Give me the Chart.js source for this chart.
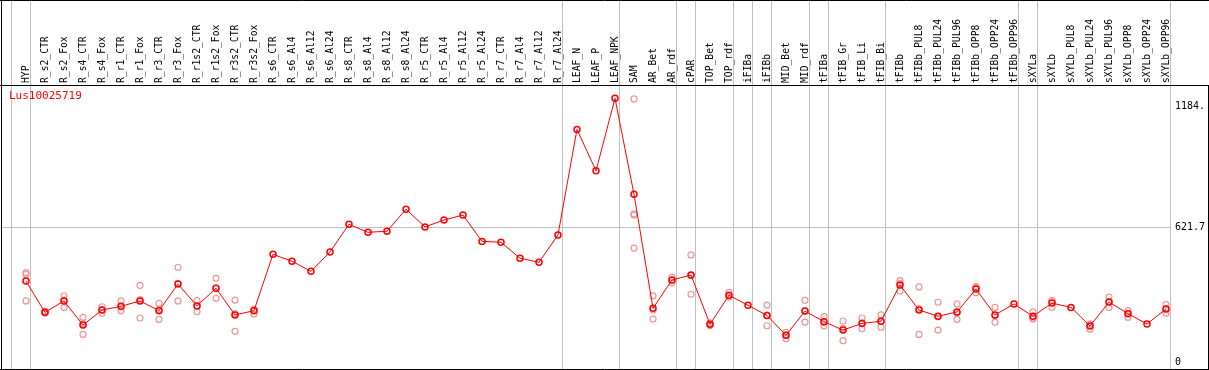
<!DOCTYPE html>
<html><head><meta charset="utf-8">
<script src="https://cdn.jsdelivr.net/npm/chart.js@4.4.1/dist/chart.umd.min.js"></script>
<style>html,body{margin:0;padding:0;background:#fff;overflow:hidden}canvas{display:block}</style>
</head><body>
<canvas id="c" width="1209" height="370"></canvas>
<script>
const geneName = 'Lus10025719';
const categories = ['HYP','R_s2_CTR','R_s2_Fox','R_s4_CTR','R_s4_Fox','R_r1_CTR','R_r1_Fox','R_r3_CTR','R_r3_Fox','R_r1s2_CTR','R_r1s2_Fox','R_r3s2_CTR','R_r3s2_Fox','R_s6_CTR','R_s6_Al4','R_s6_Al12','R_s6_Al24','R_s8_CTR','R_s8_Al4','R_s8_Al12','R_s8_Al24','R_r5_CTR','R_r5_Al4','R_r5_Al12','R_r5_Al24','R_r7_CTR','R_r7_Al4','R_r7_Al12','R_r7_Al24','LEAF_N','LEAF_P','LEAF_NPK','SAM','AR_Bet','AR_rdf','cPAR','TOP_Bet','TOP_rdf','iFIBa','iFIBb','MID_Bet','MID_rdf','tFIBa','tFIB_Gr','tFIB_Li','tFIB_Bi','tFIBb','tFIBb_PUL8','tFIBb_PUL24','tFIBb_PUL96','tFIBb_OPP8','tFIBb_OPP24','tFIBb_OPP96','sXYLa','sXYLb','sXYLb_PUL8','sXYLb_PUL24','sXYLb_PUL96','sXYLb_OPP8','sXYLb_OPP24','sXYLb_OPP96'];
const means = [375,230,283,171,241,258,283,238,361,260,342,218,238,
  499,467,420,510,638,601,606,708,626,658,681,559,555,481,462,589,
  1078,886,1222,777,249,380,403,
  175,309,263,216,124,236,187,148,179,189,
  357,241,212,232,338,218,269,
  212,273,253,167,278,224,176,246];
const replicates = [
  [414,406,283],[236,227,227],[307,253,287],[207,128,179],[256,226,241],[283,238,255],[355,204,289],[272,198,244],[439,283,363],[284,233,261],[388,295,342],[287,142,224],[244,222,243],
  [],[],[],[],[],[],[],[],[],[],[],[],[],[],[],[],
  [],[],[],
  [1219,686,681,528],[306,199,241],[393,367,380],[496,314,400],
  [181,171,169],[323,303,301],[],[264,168,216],[138,108,125],[286,185,236],[210,167,184],[190,99,156],[204,154,181],[218,161,188],
  [377,329,365],[348,128,247],[277,148,210],[269,198,228],[349,321,345],[253,184,216],[],
  [232,199,204],[284,253,283],[],[176,152,173],[301,253,280],[238,207,227],[],[266,226,246]
];
const groupEnds = [-1,0,28,31,34,35,37,38,39,41,42,45,52,53,60];
const yTickValues = [0, 621.7, 1184];
const yTickLabels = ['0','621.7','1184.'];

const meanPoints = means.map((v,i)=>({x:i,y:v}));
const repPoints = [];
replicates.forEach((arr,i)=>arr.forEach(v=>repPoints.push({x:i,y:v})));

const frame = {
  id:'frame',
  beforeDraw(chart){ const ctx=chart.ctx; ctx.save(); ctx.fillStyle='#fff'; ctx.fillRect(0,0,chart.width,chart.height); ctx.restore(); },
  beforeDatasetsDraw(chart){
    const ctx=chart.ctx, xs=chart.scales.x, a=chart.chartArea;
    ctx.save(); ctx.strokeStyle='#c0c0c0'; ctx.lineWidth=1;
    groupEnds.forEach(g=>{ const px=Math.round(xs.getPixelForValue(g)+4)+0.5; ctx.beginPath(); ctx.moveTo(px,0); ctx.lineTo(px,a.bottom); ctx.stroke(); });
    ctx.restore();
  },
  afterDraw(chart){
    const ctx=chart.ctx, a=chart.chartArea, W=chart.width, H=chart.height;
    ctx.save(); ctx.strokeStyle='#000'; ctx.lineWidth=1;
    ctx.beginPath();
    ctx.moveTo(0,0.5); ctx.lineTo(W,0.5);
    ctx.moveTo(0,a.top-0.5); ctx.lineTo(W,a.top-0.5);
    ctx.moveTo(0,H-0.5); ctx.lineTo(W,H-0.5);
    ctx.moveTo(1.5,0); ctx.lineTo(1.5,H);
    ctx.moveTo(W-0.5,a.top); ctx.lineTo(W-0.5,H);
    ctx.stroke();
    ctx.fillStyle='#ff0000'; ctx.font='11px "DejaVu Sans Mono"'; ctx.textBaseline='top'; ctx.textAlign='left';
    ctx.fillText(geneName, a.left+7, a.top+5);
    ctx.restore();
  }
};

new Chart(document.getElementById('c'), {
  type:'line',
  data:{datasets:[
    {label:'mean', data:meanPoints, borderColor:'#ff0000', borderWidth:1, pointRadius:3, pointBorderWidth:1.5, pointBorderColor:'#ff0000', pointBackgroundColor:'rgba(0,0,0,0)', tension:0, fill:false, order:0},
    {label:'replicates', type:'scatter', data:repPoints, showLine:false, pointRadius:3, pointBorderWidth:1.2, pointBorderColor:'rgb(238,150,150)', pointBackgroundColor:'rgba(0,0,0,0)', order:1}
  ]},
  options:{
    responsive:false, animation:false, devicePixelRatio:1, events:[],
    layout:{autoPadding:false, padding:{left:2,right:0,top:0,bottom:1}},
    plugins:{legend:{display:false}, tooltip:{enabled:false}},
    scales:{
      x:{type:'linear', position:'top', min:-1.263, max:60.263,
        grid:{display:false, drawTicks:false}, border:{display:false},
        afterBuildTicks(s){ s.ticks = categories.map((c,i)=>({value:i})); },
        afterFit(s){ s.height = 86; s.paddingLeft = 0; s.paddingRight = 0; },
        ticks:{autoSkip:false, minRotation:90, maxRotation:90, padding:3, labelOffset:12, color:'#000', font:{family:'DejaVu Sans Mono', size:9.7}, callback:(v)=>categories[v]}
      },
      y:{type:'linear', position:'right', min:-32.4, max:1279,
        grid:{drawTicks:false, color:(c)=> (c.tick && c.tick.value===621.7) ? '#c0c0c0' : 'rgba(0,0,0,0)', lineWidth:1},
        border:{display:false},
        afterBuildTicks(s){ s.ticks = yTickValues.map(v=>({value:v})); },
        afterFit(s){ s.width = 38; s.paddingTop = 0; s.paddingBottom = 0; },
        ticks:{padding:4, color:'#000', font:{family:'DejaVu Sans Mono', size:10}, callback:(v,i)=>yTickLabels[i]}
      }
    }
  },
  plugins:[frame]
});
</script>
</body></html>
